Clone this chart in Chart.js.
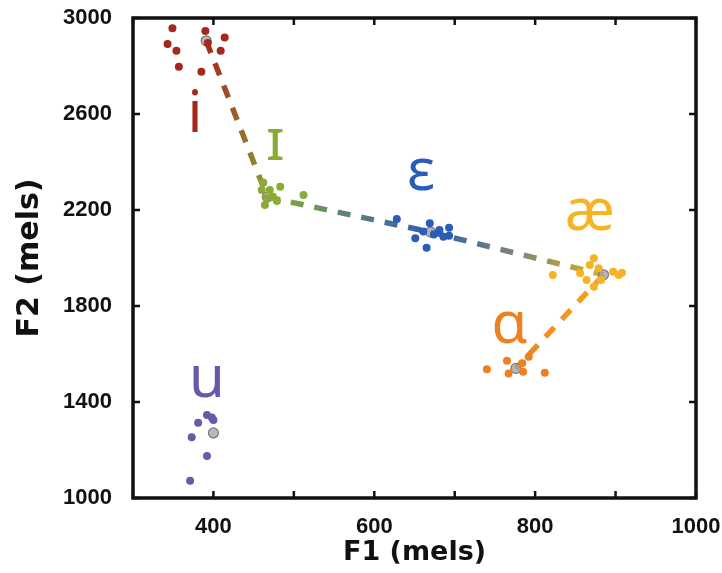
<!DOCTYPE html>
<html>
<head>
<meta charset="utf-8">
<script src="https://cdn.jsdelivr.net/npm/chart.js@4/dist/chart.umd.min.js"></script>
<style>
  body { margin: 0; background: #fff; }
  canvas { display: block; }
</style>
</head>
<body>
<canvas id="vowelChart" width="722" height="573"></canvas>
<script>
// individual tokens, F1 / F2 in mels
const iF1 = [349, 390, 414, 343, 354, 409, 357, 385, 393];
const iF2 = [2957, 2946, 2919, 2892, 2864, 2864, 2797, 2776, 2896];

const ihF1 = [462, 460, 470, 483, 466, 474, 464, 479, 512];
const ihF2 = [2315, 2283, 2283, 2297, 2249, 2255, 2221, 2238, 2262];

const ehF1 = [628, 669, 651, 665, 681, 693, 693, 661, 674, 686];
const ehF2 = [2162, 2145, 2082, 2043, 2117, 2126, 2093, 2110, 2098, 2089];

const aeF1 = [822, 856, 873, 868, 879, 864, 873, 882, 897, 904, 908];
const aeF2 = [1929, 1936, 1999, 1971, 1957, 1908, 1880, 1908, 1943, 1929, 1939];

const ahF1 = [740, 765, 792, 784, 767, 785, 812];
const ahF2 = [1536, 1572, 1589, 1561, 1519, 1526, 1522];

const uF1 = [392, 400, 381, 373, 392, 371, 398];
const uF2 = [1346, 1325, 1314, 1253, 1175, 1072, 1335];

// vowel means (gray circles), same order as VOWELS
const VOWELS = ['i', 'ɪ', 'ɛ', 'æ', 'ɑ', 'u'];
const meanF1 = [391, 467, 670, 885, 776, 400];
const meanF2 = [2905, 2254, 2108, 1930, 1540, 1271];

// dashed path through the means
const PATH = ['i', 'ɪ', 'ɛ', 'æ', 'ɑ'];

// vowel symbol anchors (data units, baseline centre)
const labelF1 = [377, 477, 658, 868, 768, 392];
const labelF2 = [2525, 2408, 2283, 2117, 1646, 1421];

const X_TICKS = [300, 400, 500, 600, 700, 800, 900, 1000];
const Y_TICKS = [1000, 1400, 1800, 2200, 2600, 3000];

const COLORS = {
    'i': '#a6281d',
    'ɪ': '#8cab36',
    'ɛ': '#2b5db6',
    'æ': '#f6b425',
    'ɑ': '#f0801f',
    'u': '#675aaa'
};

// gradient ends for each dashed segment
const SEG_COLORS = [
    ['#a6281d', '#8c9a34'],
    ['#8cab36', '#2b5db6'],
    ['#2b5db6', '#d6b02a'],
    ['#f6a623', '#f0801f']
];

function toPoints(xs, ys) {
    return xs.map((x, k) => ({x: x, y: ys[k]}));
}

const tokenSets = [
    ['i', iF1, iF2],
    ['ɪ', ihF1, ihF2],
    ['ɛ', ehF1, ehF2],
    ['æ', aeF1, aeF2],
    ['ɑ', ahF1, ahF2],
    ['u', uF1, uF2],
];

const datasets = tokenSets.map(s => ({
    label: s[0],
    data: toPoints(s[1], s[2]),
    backgroundColor: COLORS[s[0]],
    borderWidth: 0,
    pointRadius: 4,
    showLine: false,
}));

datasets.push({
    label: 'means',
    data: toPoints(meanF1, meanF2),
    backgroundColor: 'rgba(160,160,160,0.75)',
    borderColor: 'rgba(110,110,120,0.9)',
    borderWidth: 1.2,
    pointRadius: 5,
    showLine: false,
});

const pathIdx = PATH.map(v => VOWELS.indexOf(v));
datasets.push({
    label: 'path',
    data: pathIdx.map(k => ({x: meanF1[k], y: meanF2[k]})),
    showLine: true,
    pointRadius: 0,
    borderWidth: 5.5,
    borderDash: [13, 11],
    borderCapStyle: 'butt',
    fill: false,
    segment: {
        borderColor: ctx => {
            const c = ctx.chart.ctx;
            const g = c.createLinearGradient(ctx.p0.x, ctx.p0.y, ctx.p1.x, ctx.p1.y);
            const pair = SEG_COLORS[ctx.p0DataIndex];
            g.addColorStop(0, pair[0]);
            g.addColorStop(1, pair[1]);
            return g;
        },
    },
});

// frame + inward ticks on all four sides
const framePlugin = {
    id: 'frame',
    afterDatasetsDraw(chart) {
        const c = chart.ctx;
        const a = chart.chartArea;
        const xs = chart.scales.x, ys = chart.scales.y;
        const len = 7;
        c.save();
        c.strokeStyle = '#111';
        c.lineWidth = 2.5;
        X_TICKS.forEach(v => {
            const px = xs.getPixelForValue(v);
            c.beginPath();
            c.moveTo(px, a.bottom); c.lineTo(px, a.bottom - len);
            c.moveTo(px, a.top); c.lineTo(px, a.top + len);
            c.stroke();
        });
        Y_TICKS.forEach(v => {
            const py = ys.getPixelForValue(v);
            c.beginPath();
            c.moveTo(a.left, py); c.lineTo(a.left + len, py);
            c.moveTo(a.right, py); c.lineTo(a.right - len, py);
            c.stroke();
        });
        c.lineWidth = 3.5;
        c.strokeRect(a.left, a.top, a.right - a.left, a.bottom - a.top);
        c.restore();
    }
};

// vowel symbols
const symbolPlugin = {
    id: 'symbols',
    afterDatasetsDraw(chart) {
        const c = chart.ctx;
        const xs = chart.scales.x, ys = chart.scales.y;
        c.save();
        c.font = '58px "Noto Sans"';
        c.textAlign = 'center';
        c.textBaseline = 'alphabetic';
        VOWELS.forEach((v, k) => {
            c.fillStyle = COLORS[v];
            c.fillText(v, xs.getPixelForValue(labelF1[k]), ys.getPixelForValue(labelF2[k]));
        });
        c.restore();
    }
};

const tickFont = {family: '"Liberation Sans", Arial, sans-serif', size: 22, weight: 'bold'};
const xTitleFont = {family: '"DejaVu Sans", sans-serif', size: 27, weight: 'bold'};
const yTitleFont = {family: '"DejaVu Sans", sans-serif', size: 30, weight: 'bold'};

new Chart(document.getElementById('vowelChart').getContext('2d'), {
    type: 'scatter',
    data: {datasets: datasets},
    options: {
        responsive: false,
        animation: false,
        layout: {padding: {top: 18, right: 26, left: 0, bottom: 0}},
        plugins: {
            legend: {display: false},
            tooltip: {enabled: false},
        },
        scales: {
            x: {
                type: 'linear',
                min: 300,
                max: 1000,
                afterFit: s => {
                    s.height = 75;
                    s.paddingLeft = 0;
                    s.paddingRight = 0;
                },
                afterBuildTicks: s => { s.ticks = X_TICKS.map(v => ({value: v})); },
                grid: {display: false},
                border: {display: false},
                ticks: {
                    autoSkip: false,
                    maxRotation: 0,
                    padding: 8,
                    color: '#111',
                    font: tickFont,
                    callback: v => (v % 200 === 0 ? String(v) : ''),
                },
                title: {
                    display: true,
                    text: 'F1 (mels)',
                    color: '#111',
                    font: xTitleFont,
                    padding: {top: 0, bottom: 4},
                },
            },
            y: {
                type: 'linear',
                min: 1000,
                max: 3000,
                afterFit: s => {
                    s.width = 133;
                    s.paddingTop = 0;
                    s.paddingBottom = 0;
                },
                afterBuildTicks: s => { s.ticks = Y_TICKS.map(v => ({value: v})); },
                grid: {display: false},
                border: {display: false},
                ticks: {
                    padding: 13,
                    color: '#111',
                    font: tickFont,
                    callback: v => String(v),
                },
                title: {
                    display: true,
                    text: 'F2 (mels)',
                    color: '#111',
                    font: yTitleFont,
                    padding: {top: 12, bottom: 12},
                },
            },
        },
    },
    plugins: [framePlugin, symbolPlugin],
});
</script>
</body>
</html>
